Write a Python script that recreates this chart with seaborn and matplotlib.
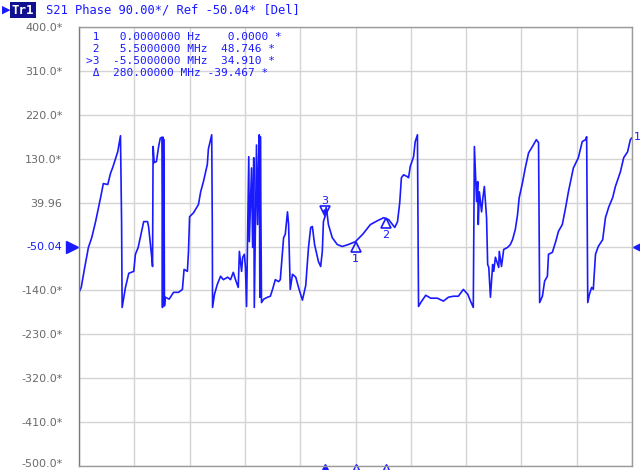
import numpy as np
import pandas as pd
import matplotlib
matplotlib.use("Agg")
import matplotlib.pyplot as plt
import matplotlib.transforms as mtransforms
import seaborn as sns

# ---- data ----
freq_mhz = [-50.0, -49.6, -49.0, -48.3, -47.7, -47.0, -46.1, -45.6, -44.8, -44.3, -43.9, -43.0, -42.5, -42.3, -42.2,
            -41.6, -41.0, -40.1, -39.8, -39.3, -38.3, -37.6, -37.4, -36.9, -36.7, -36.6, -36.4, -36.0, -35.6, -35.3,
            -35.0, -34.9, -34.8, -34.75, -34.7, -34.6, -34.55, -34.4, -33.7, -32.9, -32.0, -31.3, -31.0, -30.4, -30.2,
            -30.0, -29.3, -28.4, -28.0, -27.5, -26.8, -26.6, -26.0, -25.9, -25.85, -25.5, -25.0, -24.4, -23.9, -23.1,
            -22.6, -22.1, -21.7, -21.2, -21.0, -20.6, -20.4, -20.1, -19.9, -19.7, -19.5, -19.3, -19.2, -18.8, -18.6,
            -18.4, -18.3, -17.9, -17.7, -17.5, -17.4, -17.3, -17.2, -17.0, -16.6, -15.9, -15.4, -15.0, -14.5, -13.9,
            -13.6, -13.2, -13.0, -12.7, -12.3, -12.1, -11.8, -11.4, -10.8, -10.3, -9.6, -9.0, -8.5, -8.1, -7.8,
            -7.4, -6.7, -6.3, -6.0, -5.8, -5.5, -5.3, -5.1, -4.9, -4.2, -3.3, -2.4, -1.3, 0.0, 1.3,
            2.7, 4.0, 5.1, 6.0, 6.7, 7.1, 7.6, 8.0, 8.3, 8.7, 9.4, 9.6, 9.9, 10.5, 10.8,
            11.2, 11.4, 11.8, 12.7, 13.6, 14.8, 15.9, 16.8, 17.7, 18.6, 19.5, 20.3, 20.8, 21.3, 21.4,
            21.5, 21.9, 22.1, 22.2, 22.4, 22.8, 23.0, 23.3, 23.7, 23.9, 24.1, 24.4, 24.8, 25.0, 25.3,
            25.9, 26.0, 26.4, 26.8, 27.5, 28.0, 28.4, 28.9, 29.3, 29.6, 30.2, 30.7, 31.3, 32.0, 32.7,
            33.1, 33.2, 33.3, 33.8, 34.2, 34.7, 34.9, 35.6, 36.2, 36.7, 37.4, 38.0, 38.5, 39.4, 40.3,
            41.0, 41.6, 41.8, 42.0, 42.3, 42.7, 43.0, 43.4, 43.9, 44.7, 45.2, 45.8, 46.5, 47.0, 47.9,
            48.5, 49.2, 49.7, 50.0]
phase_deg = [-144, -134, -95, -52, -32, 1, 50, 79, 77, 100, 112, 144, 177, 1, -175,
             -134, -105, -101, -66, -52, 1, 1, -11, -66, -91, 155, 122, 124, 155, 172,
             174, -175, 174, -170, 170, 1, -172, -154, -158, -144, -144, -138, -97, -101, -60,
             11, 19, 36, 62, 83, 118, 150, 179, 1, -175, -148, -128, -111, -118, -113,
             -118, -103, -118, -134, -60, -101, -72, -66, -93, -173, -19, 134, -40, 111, -52,
             132, -175, 158, -5, 134, 179, -154, 175, -165, -158, -154, -152, -138, -118, -122,
             -118, -62, -32, -25, 21, -5, -138, -107, -113, -134, -160, -130, -52, -11, -9,
             -46, -81, -91, -60, 1, 12, 30, 14, -5, -32, -46, -50, -46, -40, -25,
             -5, 3, 9, 5, -5, -11, 1, 40, 91, 97, 93, 91, 114, 134, 165,
             179, -173, -165, -150, -156, -156, -162, -154, -152, -152, -138, -148, -162, -175, -11,
             155, 42, 83, -5, 62, 21, 46, 73, 9, -87, -93, -154, -87, -101, -72,
             -93, -60, -91, -56, -52, -46, -36, -15, 15, 50, 81, 111, 142, 155, 169,
             163, 1, -165, -152, -121, -111, -66, -62, -40, -19, -5, 30, 62, 111, 132,
             165, 169, 175, -165, -148, -134, -138, -66, -50, -36, 9, 31, 50, 73, 103,
             132, 144, 169, 173]

marker_ids = ["1", "2", "3"]
marker_freq = [0.0, 5.5, -5.5]
marker_phase = [-40, 9, 12]

ytick_vals = [399.96, 309.96, 219.96, 129.96, 39.96, -50.04, -140.04, -230.04, -320.04, -410.04, -500.04]
ytick_labels = ["400.0*", "310.0*", "220.0*", "130.0*", "39.96", "-50.04", "-140.0*", "-230.0*",
                "-320.0*", "-410.0*", "-500.0*"]
ref_value = -50.04

header_text = "S21 Phase 90.00*/ Ref -50.04* [Del]"
table_rows = [" 1   0.0000000 Hz    0.0000 *",
              " 2   5.5000000 MHz  48.746 *",
              ">3  -5.5000000 MHz  34.910 *",
              " Δ  280.00000 MHz -39.467 *"]

BLUE = "#1a1aff"
GRAY = "#6a6a6a"

sns.set_style("white")
plt.rcParams["font.family"] = ["DejaVu Sans"]

fig = plt.figure(figsize=(6.4, 4.7), dpi=100)
ax = fig.add_axes([79 / 640, 4 / 470, 553 / 640, 439 / 470])

df = pd.DataFrame({"f": freq_mhz, "p": phase_deg})
sns.lineplot(data=df, x="f", y="p", sort=False, estimator=None, color=BLUE, lw=1.2, ax=ax)

ax.set_xlim(-50, 50)
ax.set_ylim(-500.04, 399.96)
ax.set_xticks(np.linspace(-50, 50, 11))
ax.set_xticklabels([])
ax.set_yticks(ytick_vals)
ax.set_yticklabels(ytick_labels)
ax.set_xlabel("")
ax.set_ylabel("")
ax.tick_params(axis="both", length=0)
ax.tick_params(axis="y", pad=12, labelsize=8, labelcolor=GRAY)
for lbl in ax.get_yticklabels():
    if lbl.get_text() == "-50.04":
        lbl.set_color(BLUE)
    if lbl.get_text() == "-500.0*":
        lbl.set_transform(lbl.get_transform() + mtransforms.ScaledTranslation(0, 3 / 100, fig.dpi_scale_trans))
ax.grid(True, color="#d4d4d4", lw=1)
for s in ax.spines.values():
    s.set_color("#9a9a9a")
    s.set_linewidth(1)
ax.spines["left"].set_color("#7a7a7a")

# markers on trace
below = mtransforms.offset_copy(ax.transData, fig=fig, x=0, y=-5, units="dots")
lab_below = mtransforms.offset_copy(ax.transData, fig=fig, x=0, y=-17, units="dots")
above = mtransforms.offset_copy(ax.transData, fig=fig, x=0, y=5, units="dots")
lab_above = mtransforms.offset_copy(ax.transData, fig=fig, x=0, y=15, units="dots")
for mid, mf, mp in zip(marker_ids, marker_freq, marker_phase):
    if mid == "3":
        ax.plot([mf], [mp], marker="v", ms=7, mfc="none", mec=BLUE, mew=1.2, transform=above)
        ax.plot([mf], [mp], marker="o", ms=2.5, color=BLUE, transform=above)
        ax.text(mf, mp, mid, color=BLUE, fontsize=8, ha="center", va="center", transform=lab_above)
    else:
        ax.plot([mf], [mp], marker="^", ms=7, mfc="none", mec=BLUE, mew=1.2, transform=below)
        ax.text(mf, mp, mid, color=BLUE, fontsize=8, ha="center", va="center", transform=lab_below)

# markers on x axis
bx = mtransforms.blended_transform_factory(ax.transData, ax.transAxes)
for mid, mf in zip(marker_ids, marker_freq):
    ax.plot([mf], [-0.003], marker="^", ms=5, mfc=BLUE if mid == "3" else "white", mec=BLUE,
            mew=1, transform=bx, clip_on=False)

# reference arrows
by = mtransforms.blended_transform_factory(ax.transAxes, ax.transData)
ax.plot([-0.012], [ref_value], marker=">", ms=8, color=BLUE, transform=by, clip_on=False)
ax.plot([1.012], [ref_value], marker="<", ms=8, color=BLUE, transform=by, clip_on=False)
ax.text(1.003, phase_deg[-1] - 8, "1", color=BLUE, fontsize=8, ha="left", va="bottom",
        transform=by, clip_on=False)

# header
fig.text(2 / 640, 1 - 10 / 470, "▶", color=BLUE, fontsize=8, va="center", ha="left")
fig.text(12 / 640, 1 - 10 / 470, "Tr1", color="white", fontsize=9, va="center", ha="left",
         family="DejaVu Sans Mono", weight="bold",
         bbox=dict(boxstyle="square,pad=0.15", fc="#101090", ec="none"))
fig.text(46 / 640, 1 - 10 / 470, header_text, color=BLUE, fontsize=8.7, va="center", ha="left",
         family="DejaVu Sans Mono")

# marker table
for i, row in enumerate(table_rows):
    fig.text(86 / 640, 1 - (37 + 12 * i) / 470, row, color=BLUE, fontsize=8, va="center",
             ha="left", family="DejaVu Sans Mono")

fig.savefig("out.png", dpi=100, facecolor="white")
